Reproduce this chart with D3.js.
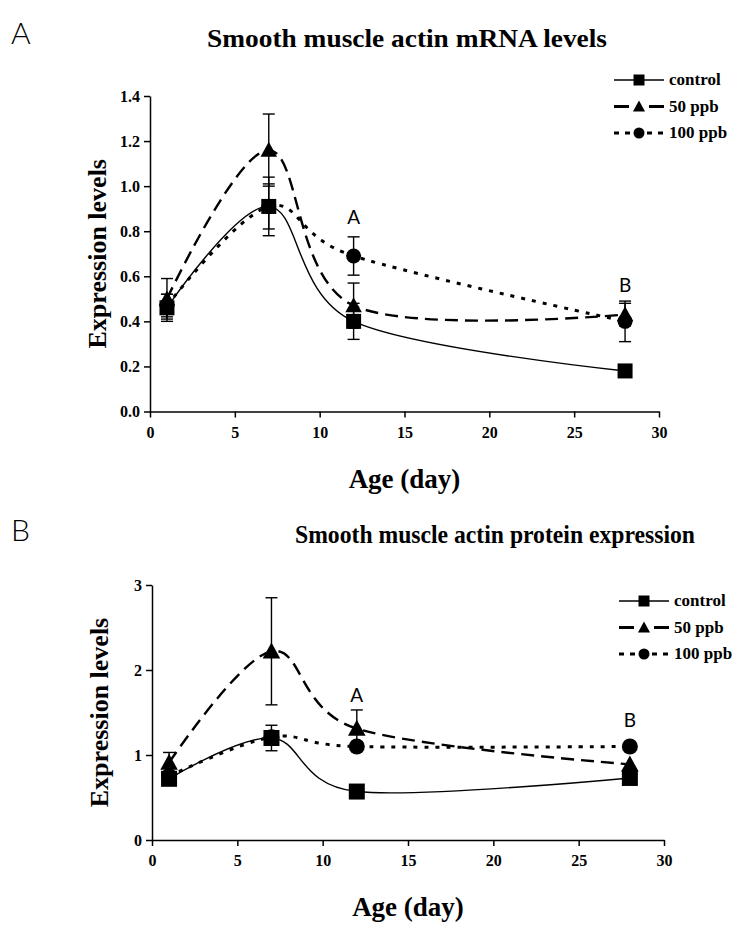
<!DOCTYPE html>
<html>
<head>
<meta charset="utf-8">
<script src="https://cdn.jsdelivr.net/npm/d3@7"></script>
<style>
  body { margin: 0; background: #fff; }
  svg { display: block; }
  .tick text { font-family: "Liberation Serif", serif; font-weight: bold; }
</style>
</head>
<body>
<svg id="chart" width="745" height="936"></svg>
<script>
// data
var days = [1, 7, 12, 28]
var seriesNames = ["control", "50 ppb", "100 ppb"]

// panel A: mRNA
var mrnaControl = [0.46, 0.91, 0.40, 0.18]
var mrnaControlErr = [0.06, 0.13, 0.08, 0]
var mrna50 = [0.50, 1.16, 0.47, 0.43]
var mrna50Err = [0.09, 0.16, 0.10, 0.05]
var mrna100 = [0.47, 0.91, 0.69, 0.40]
var mrna100Err = [0.05, 0.10, 0.085, 0.09]
var mrnaYTicks = [0, 0.2, 0.4, 0.6, 0.8, 1.0, 1.2, 1.4]
var mrnaSig = [{ txt: "A", day: 12, v: 0.83 }, { txt: "B", day: 28, v: 0.53 }]

// panel B: protein
var protControl = [0.72, 1.20, 0.57, 0.73]
var protControlErr = [0.05, 0.15, 0, 0]
var prot50 = [0.91, 2.22, 1.31, 0.89]
var prot50Err = [0.12, 0.63, 0.22, 0]
var prot100 = [0.75, 1.21, 1.10, 1.10]
var prot100Err = [0, 0, 0, 0]
var protYTicks = [0, 1, 2, 3]
var protSig = [{ txt: "A", day: 12, v: 1.62 }, { txt: "B", day: 28, v: 1.33 }]

var xTicks = [0, 5, 10, 15, 20, 25, 30]

var styles = [
    { dash: null, width: 1.4, mk: "square" },   // control
    { dash: "13,7", width: 2.4, mk: "triangle" }, // 50 ppb
    { dash: "4,7", width: 3, mk: "circle" }     // 100 ppb
]

var svg = d3.select("#chart")

function marker(g, type, cx, cy, s) {
    if (type == "square") {
        g.append("rect").attr("x", cx - s / 2).attr("y", cy - s / 2)
            .attr("width", s).attr("height", s).attr("fill", "#000")
    } else if (type == "triangle") {
        g.append("path")
            .attr("d", "M" + cx + "," + (cy - s * 0.55) + "L" + (cx + s * 0.55) + "," + (cy + s * 0.45) +
                "L" + (cx - s * 0.55) + "," + (cy + s * 0.45) + "Z")
            .attr("fill", "#000")
    } else {
        g.append("circle").attr("cx", cx).attr("cy", cy).attr("r", s / 2).attr("fill", "#000")
    }
}

function panel(cfg) {
    var x = d3.scaleLinear().domain([0, 30]).range(cfg.xr)
    var y = d3.scaleLinear().domain(cfg.yd).range(cfg.yr)
    var g = svg.append("g")

    // panel letter + title
    g.append("text").attr("x", 11).attr("y", cfg.letterY).text(cfg.letter)
        .attr("font-family", "Lato, 'Open Sans', sans-serif").attr("font-weight", 300)
        .attr("font-size", 30)
    g.append("text").attr("x", cfg.titleX).attr("y", cfg.titleY).text(cfg.title)
        .attr("text-anchor", "middle")
        .attr("font-family", "'Liberation Serif', serif").attr("font-weight", "bold")
        .attr("font-size", 25)
        .attr("textLength", cfg.titleW).attr("lengthAdjust", "spacingAndGlyphs")

    // axes
    g.append("g").attr("transform", "translate(0," + cfg.yr[0] + ")")
        .call(d3.axisBottom(x).tickValues(xTicks).tickSize(6).tickSizeOuter(0).tickPadding(9))
    g.append("g").attr("transform", "translate(" + cfg.xr[0] + ",0)")
        .call(d3.axisLeft(y).tickValues(cfg.yTicks).tickFormat(d3.format(cfg.fmt))
            .tickSize(6).tickSizeOuter(0).tickPadding(4))
    g.selectAll(".domain").attr("stroke", "#000").attr("stroke-width", 1.5)
    g.selectAll(".tick line").attr("stroke", "#000").attr("stroke-width", 1.5)
    g.selectAll(".tick text").attr("font-size", 16).attr("fill", "#000")

    g.append("text").attr("x", d3.mean(cfg.xr)).attr("y", cfg.yr[0] + 76)
        .attr("text-anchor", "middle").text("Age (day)")
        .attr("font-family", "'Liberation Serif', serif").attr("font-weight", "bold").attr("font-size", 27)
    g.append("text")
        .attr("transform", "translate(" + (cfg.xr[0] - 44) + "," + d3.mean(cfg.yr) + ") rotate(-90)")
        .attr("text-anchor", "middle").text("Expression levels")
        .attr("font-family", "'Liberation Serif', serif").attr("font-weight", "bold").attr("font-size", 26)

    var line = d3.line()
        .x(function (d) { return x(d[0]) })
        .y(function (d) { return y(d[1]) })
        .curve(d3.curveCardinal.tension(0))

    cfg.series.forEach(function (vals, k) {
        var st = styles[k]
        var pts = days.map(function (d, i) { return [d, vals[i]] })
        g.append("path").datum(pts).attr("d", line)
            .attr("fill", "none").attr("stroke", "#000")
            .attr("stroke-width", st.width)
            .attr("stroke-dasharray", st.dash)
    })

    cfg.series.forEach(function (vals, k) {
        var st = styles[k]
        var errs = cfg.errs[k]
        days.forEach(function (d, i) {
            if (errs[i] > 0) {
                var cx = x(d)
                var eb = g.append("g").attr("stroke", "#000").attr("stroke-width", 1.4)
                eb.append("line").attr("x1", cx).attr("x2", cx)
                    .attr("y1", y(vals[i] - errs[i])).attr("y2", y(vals[i] + errs[i]))
                eb.append("line").attr("x1", cx - 6).attr("x2", cx + 6)
                    .attr("y1", y(vals[i] + errs[i])).attr("y2", y(vals[i] + errs[i]))
                eb.append("line").attr("x1", cx - 6).attr("x2", cx + 6)
                    .attr("y1", y(vals[i] - errs[i])).attr("y2", y(vals[i] - errs[i]))
            }
            marker(g, st.mk, x(d), y(vals[i]), cfg.mkSize)
        })
    })

    // significance letters
    cfg.sig.forEach(function (s) {
        g.append("text").attr("x", x(s.day)).attr("y", y(s.v)).text(s.txt)
            .attr("text-anchor", "middle")
            .attr("font-family", "Lato, 'Open Sans', sans-serif").attr("font-size", 19)
    })

    // legend
    seriesNames.forEach(function (name, k) {
        var st = styles[k]
        var ly = cfg.legY + k * 26.5
        var lg = g.append("g")
        lg.append("line").attr("x1", cfg.legX).attr("x2", cfg.legX + 50)
            .attr("y1", ly).attr("y2", ly).attr("stroke", "#000")
            .attr("stroke-width", k == 0 ? 1.4 : 3)
            .attr("stroke-dasharray", k == 0 ? null : (k == 1 ? "15,20,15" : "5,6"))
        marker(lg, st.mk, cfg.legX + 25, ly, 11)
        lg.append("text").attr("x", cfg.legX + 55).attr("y", ly + 5).text(name)
            .attr("font-family", "'Liberation Serif', serif").attr("font-weight", "bold")
            .attr("font-size", 17)
    })
}

panel({
    letter: "A", letterY: 44,
    title: "Smooth muscle actin mRNA levels", titleX: 407, titleY: 47, titleW: 400,
    xr: [150, 659], yd: [0, 1.4], yr: [411.5, 96],
    yTicks: mrnaYTicks, fmt: ".1f",
    series: [mrnaControl, mrna50, mrna100],
    errs: [mrnaControlErr, mrna50Err, mrna100Err],
    sig: mrnaSig, mkSize: 15,
    legX: 614, legY: 80
})

panel({
    letter: "B", letterY: 541,
    title: "Smooth muscle actin protein expression", titleX: 495, titleY: 543, titleW: 400,
    xr: [152, 664], yd: [0, 3], yr: [840, 585],
    yTicks: protYTicks, fmt: "d",
    series: [protControl, prot50, prot100],
    errs: [protControlErr, prot50Err, prot100Err],
    sig: protSig, mkSize: 16,
    legX: 619, legY: 601
})
</script>
</body>
</html>
